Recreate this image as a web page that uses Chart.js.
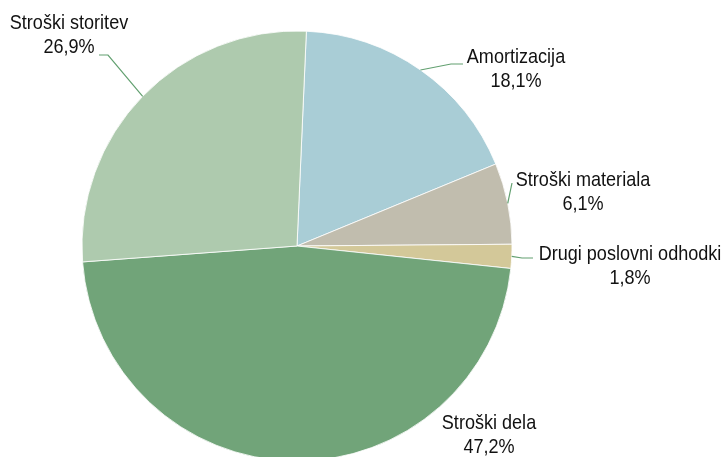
<!DOCTYPE html>
<html>
<head>
<meta charset="utf-8">
<script src="https://cdn.jsdelivr.net/npm/chart.js@4"></script>
<style>
  html, body { margin: 0; padding: 0; background: #fff; overflow: hidden; }
  #wrap { width: 722px; height: 457px; }
</style>
</head>
<body>
<div id="wrap"><canvas id="pieCanvas" width="722" height="457"></canvas></div>
<script>
// data
const categories = ['Amortizacija', 'Stroški materiala', 'Drugi poslovni odhodki', 'Stroški dela', 'Stroški storitev'];
const shares = [18.1, 6.1, 1.8, 47.2, 26.9];
const shareLabels = ['18,1%', '6,1%', '1,8%', '47,2%', '26,9%'];

const sliceColors = ['#a9cdd6', '#c1bdae', '#d3c899', '#71a479', '#aecaae'];

// label placement (text centre) and leader bend points, per slice
const labelPos = [
    { x: 516, y: 57, leader: [[451, 64], [463, 64]] },
    { x: 583, y: 180, leader: [[512, 183]] },
    { x: 630, y: 254, leader: [[522, 258], [533, 258]] },
    { x: 489, y: 423, leader: null },
    { x: 69, y: 23, leader: [[108, 55], [99, 55]] }
];

const pieLabels = {
    id: 'pieLabels',
    afterDatasetsDraw(chart) {
        const c = chart.ctx;
        const arcs = chart.getDatasetMeta(0).data;
        arcs.forEach((arc, i) => {
            const p = labelPos[i];
            if (p.leader) {
                const mid = (arc.startAngle + arc.endAngle) / 2;
                c.save();
                c.strokeStyle = '#62a070';
                c.lineWidth = 1.2;
                c.beginPath();
                c.moveTo(arc.x + arc.outerRadius * Math.cos(mid), arc.y + arc.outerRadius * Math.sin(mid));
                p.leader.forEach(pt => c.lineTo(pt[0], pt[1]));
                c.stroke();
                c.restore();
            }
            c.save();
            c.fillStyle = '#111';
            c.font = '21px "Liberation Sans", Arial, sans-serif';
            c.textAlign = 'center';
            c.textBaseline = 'middle';
            c.translate(p.x, p.y);
            c.scale(0.86, 1);
            c.fillText(categories[i], 0, 0);
            c.fillText(shareLabels[i], 0, 24.5);
            c.restore();
        });
    }
};

new Chart(document.getElementById('pieCanvas'), {
    type: 'pie',
    data: {
        labels: categories,
        datasets: [{
            data: shares,
            backgroundColor: sliceColors,
            borderColor: 'rgba(255,255,255,0.8)',
            borderWidth: 1,
            radius: 215,
            clip: false
        }]
    },
    options: {
        responsive: false,
        animation: false,
        rotation: 2.5,
        layout: {
            padding: { left: 82, right: 210, top: 100, bottom: 65 }
        },
        plugins: {
            legend: { display: false },
            tooltip: { enabled: false }
        }
    },
    plugins: [pieLabels]
});
</script>
</body>
</html>
